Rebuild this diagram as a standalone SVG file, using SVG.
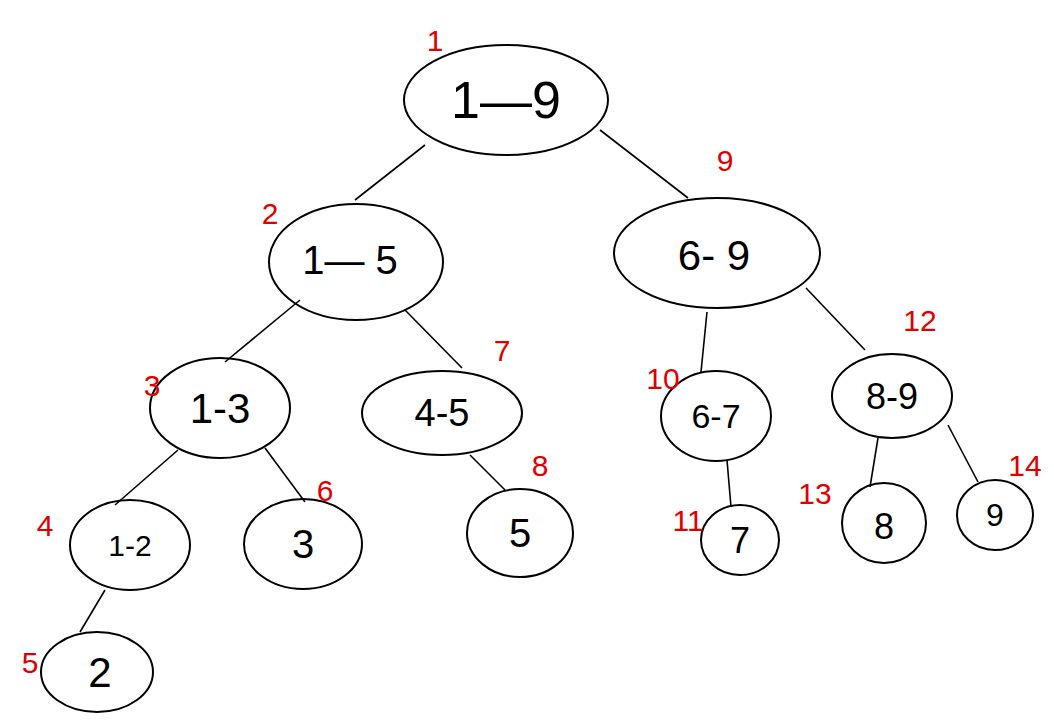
<svg xmlns="http://www.w3.org/2000/svg" width="1054" height="727" viewBox="0 0 1054 727">
<style>
ellipse{fill:none;stroke:#000;stroke-width:2}
line{stroke:#000;stroke-width:1.6}
.t{font-family:"Liberation Sans",sans-serif;fill:#000;text-anchor:middle;dominant-baseline:central}
.r{font-family:"Liberation Sans",sans-serif;fill:#e00000;font-size:30px;text-anchor:middle;dominant-baseline:central}
</style>
<rect width="1054" height="727" fill="#fff"/>
<g id="connectors">
<line x1="425" y1="145" x2="355" y2="200"/>
<line x1="600" y1="130" x2="688" y2="198"/>
<line x1="300" y1="300" x2="225" y2="362"/>
<line x1="405" y1="310" x2="462" y2="368"/>
<line x1="707" y1="312" x2="701" y2="372"/>
<line x1="806" y1="288" x2="865" y2="350"/>
<line x1="178" y1="450" x2="115" y2="505"/>
<line x1="265" y1="448" x2="305" y2="502"/>
<line x1="470" y1="455" x2="505" y2="490"/>
<line x1="727" y1="460" x2="731" y2="507"/>
<line x1="878" y1="438" x2="870" y2="487"/>
<line x1="948" y1="425" x2="978" y2="482"/>
<line x1="105" y1="590" x2="80" y2="632"/>
</g>
<g id="n1"><ellipse cx="506" cy="100" rx="102" ry="55"/><text class="t" x="506" y="100" font-size="52">1—9</text><text class="r" x="435" y="40">1</text></g>
<g id="n2"><ellipse cx="356" cy="262" rx="87" ry="58"/><text class="t" x="350" y="260" font-size="40">1— 5</text><text class="r" x="270" y="213">2</text></g>
<g id="n9"><ellipse cx="717" cy="253" rx="103" ry="55"/><text class="t" x="714" y="255" font-size="42">6- 9</text><text class="r" x="725" y="160">9</text></g>
<g id="n3"><ellipse cx="220" cy="408" rx="70" ry="50"/><text class="t" x="220" y="408" font-size="42">1-3</text><text class="r" x="152" y="385">3</text></g>
<g id="n7"><ellipse cx="442" cy="413" rx="80" ry="42"/><text class="t" x="442" y="413" font-size="38">4-5</text><text class="r" x="502" y="350">7</text></g>
<g id="n10"><ellipse cx="716" cy="416" rx="55" ry="45"/><text class="t" x="716" y="416" font-size="34">6-7</text><text class="r" x="663" y="378" font-size="24">10</text></g>
<g id="n12"><ellipse cx="892" cy="396" rx="60" ry="42"/><text class="t" x="892" y="396" font-size="36">8-9</text><text class="r" x="920" y="320" font-size="26">12</text></g>
<g id="n4"><ellipse cx="130" cy="545" rx="60" ry="45"/><text class="t" x="130" y="545" font-size="30">1-2</text><text class="r" x="45" y="525">4</text></g>
<g id="n6"><ellipse cx="303" cy="544" rx="59" ry="45"/><text class="t" x="303" y="544" font-size="40">3</text><text class="r" x="325" y="490">6</text></g>
<g id="n8"><ellipse cx="520" cy="533" rx="53" ry="44"/><text class="t" x="520" y="533" font-size="40">5</text><text class="r" x="540" y="465">8</text></g>
<g id="n11"><ellipse cx="740" cy="540" rx="39" ry="35"/><text class="t" x="740" y="540" font-size="36">7</text><text class="r" x="688" y="520" font-size="24">11</text></g>
<g id="n13"><ellipse cx="884" cy="523" rx="42" ry="40"/><text class="t" x="884" y="526" font-size="36">8</text><text class="r" x="815" y="493" font-size="28">13</text></g>
<g id="n14"><ellipse cx="995" cy="515" rx="38" ry="35"/><text class="t" x="995" y="515" font-size="32">9</text><text class="r" x="1025" y="465" font-size="28">14</text></g>
<g id="n5"><ellipse cx="97" cy="672" rx="56" ry="40"/><text class="t" x="100" y="672" font-size="42">2</text><text class="r" x="30" y="662">5</text></g>
</svg>
